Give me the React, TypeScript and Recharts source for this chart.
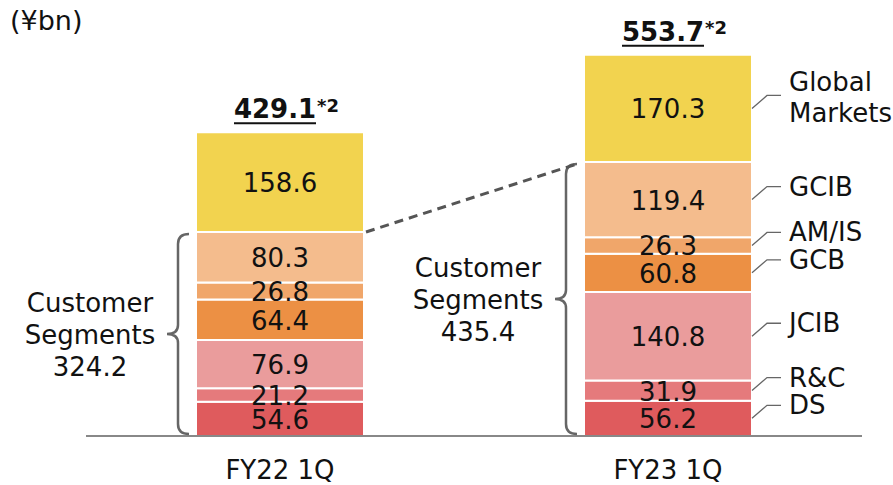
import { BarChart, Bar, XAxis, YAxis, LabelList } from 'recharts';

const categories = ['FY22 1Q', 'FY23 1Q'];
const ds = [54.6, 56.2];
const rc = [21.2, 31.9];
const jcib = [76.9, 140.8];
const gcb = [64.4, 60.8];
const amis = [26.8, 26.3];
const gcib = [80.3, 119.4];
const globalMarkets = [158.6, 170.3];
const totals = ['429.1', '553.7'];
const customerTotals = [324.2, 435.4];

const FONT = '"DejaVu Sans", Verdana, sans-serif';
const INK = '#111';
const FS = 26;

// bottom to top
const series = [
  { key: 'ds', name: ['DS'], values: ds, color: '#DF5B5D' },
  { key: 'rc', name: ['R&C'], values: rc, color: '#E57A7C' },
  { key: 'jcib', name: ['JCIB'], values: jcib, color: '#EA9C9C' },
  { key: 'gcb', name: ['GCB'], values: gcb, color: '#EC9044' },
  { key: 'amis', name: ['AM/IS'], values: amis, color: '#F0A66A' },
  { key: 'gcib', name: ['GCIB'], values: gcib, color: '#F4BC8D' },
  { key: 'gm', name: ['Global', 'Markets'], values: globalMarkets, color: '#F2D34F' },
];

const data = categories.map((name, i) => {
  const row: Record<string, any> = { name };
  series.forEach((s) => (row[s.key] = s.values[i]));
  return row;
});

// where the customer segments end on each bar, filled while labels draw
const custTop: Record<number, { x: number; y: number; w: number }> = {};

const box = (p: any) => (p.viewBox && p.viewBox.width != null ? p.viewBox : p);

const makeLabel = (s: typeof series[number]) => (p: any) => {
  const { x, y, width, height } = box(p);
  const i = p.index;
  const v = s.values[i];
  const cx = x + width / 2;
  const out: any[] = [
    <text key="v" x={cx} y={y + height / 2 + 1} textAnchor="middle" dominantBaseline="central"
      fontSize={FS} fill={INK} fontFamily={FONT}>
      {v.toFixed(1)}
    </text>,
  ];

  // segment names with leader lines, right of FY23
  if (i === 1) {
    const x0 = x + width;
    const my = y + height / 2;
    const ly = my - 13;
    out.push(
      <polyline key="ld" points={`${x0},${my} ${x0 + 15},${ly} ${x0 + 29},${ly}`}
        fill="none" stroke="#666" strokeWidth={1.3} />
    );
    const lines = s.name;
    lines.forEach((t, j) => {
      const off = lines.length === 1 ? 0 : j === 0 ? -13 : 18;
      out.push(
        <text key={'n' + j} x={x0 + 37} y={ly + off} dominantBaseline="central"
          fontSize={FS} fill={INK} fontFamily={FONT}>
          {t}
        </text>
      );
    });
  }

  // brace + customer segments total, and the dashed link
  if (s.key === 'gcib') {
    const k = height / v;
    const base = y + customerTotals[i] * k;
    const top = y + 2;
    const bot = base - 2;
    const mid = (top + bot) / 2;
    const vx = x - 18;
    const hx = x - 7;
    const tx = x - 29;
    out.push(
      <path key="br" fill="none" stroke="#666" strokeWidth={2.5}
        d={`M${hx},${top} Q${vx},${top} ${vx},${top + 10} L${vx},${mid - 9} Q${vx},${mid} ${tx},${mid}
            Q${vx},${mid} ${vx},${mid + 9} L${vx},${bot - 10} Q${vx},${bot} ${hx},${bot}`} />
    );
    const lx = tx - 77;
    ['Customer', 'Segments', customerTotals[i].toFixed(1)].forEach((t, j) => {
      out.push(
        <text key={'c' + j} x={lx} y={mid - 31 + j * 32} textAnchor="middle" dominantBaseline="central"
          fontSize={FS} fill={INK} fontFamily={FONT}>
          {t}
        </text>
      );
    });
    custTop[i] = { x, y, w: width };
    if (i === 1 && custTop[0]) {
      const a = custTop[0];
      out.push(
        <line key="dl" x1={a.x + a.w + 2} y1={a.y} x2={x - 4} y2={y + 1}
          stroke="#555" strokeWidth={3} strokeDasharray="9 6" />
      );
    }
  }

  // reported total above the bar
  if (s.key === 'gm') {
    const nx = cx - 5;
    const ny = y - 23;
    out.push(
      <text key="t" x={nx} y={ny} textAnchor="middle" dominantBaseline="central"
        fontSize={FS} fontWeight="bold" fill={INK} fontFamily={FONT}>
        {totals[i]}
      </text>,
      <line key="u" x1={nx - 41} x2={nx + 41} y1={y - 9} y2={y - 9} stroke={INK} strokeWidth={2} />,
      <text key="s" x={nx + 42} y={ny - 4} dominantBaseline="central"
        fontSize={18} fontWeight="bold" fill={INK} fontFamily={FONT}>
        *2
      </text>
    );
  }

  return <g>{out}</g>;
};

const Tick = ({ x, payload }: any) => (
  <text x={x} y={470} textAnchor="middle" dominantBaseline="central"
    fontSize={FS} fill={INK} fontFamily={FONT}>
    {payload.value}
  </text>
);

export default function App() {
  return (
    <div style={{ position: 'absolute', left: 0, top: 0, width: 893, height: 485, background: '#fff' }}>
      <div style={{ position: 'absolute', left: 10, top: 5, fontSize: 27, fontFamily: FONT, color: INK }}>
        (¥bn)
      </div>
      <BarChart width={893} height={485} data={data} barSize={168}
        margin={{ top: 27, right: 31, left: 86, bottom: 0 }}>
        <XAxis dataKey="name" height={49} tickLine={false} tick={<Tick />}
          axisLine={{ stroke: '#888', strokeWidth: 2 }} />
        <YAxis hide domain={[0, 650]} />
        {series.map((s) => (
          <Bar key={s.key} dataKey={s.key} stackId="a" fill={s.color} stroke="#fff" strokeWidth={2}
            isAnimationActive={false}>
            <LabelList dataKey={s.key} content={makeLabel(s)} />
          </Bar>
        ))}
      </BarChart>
    </div>
  );
}
